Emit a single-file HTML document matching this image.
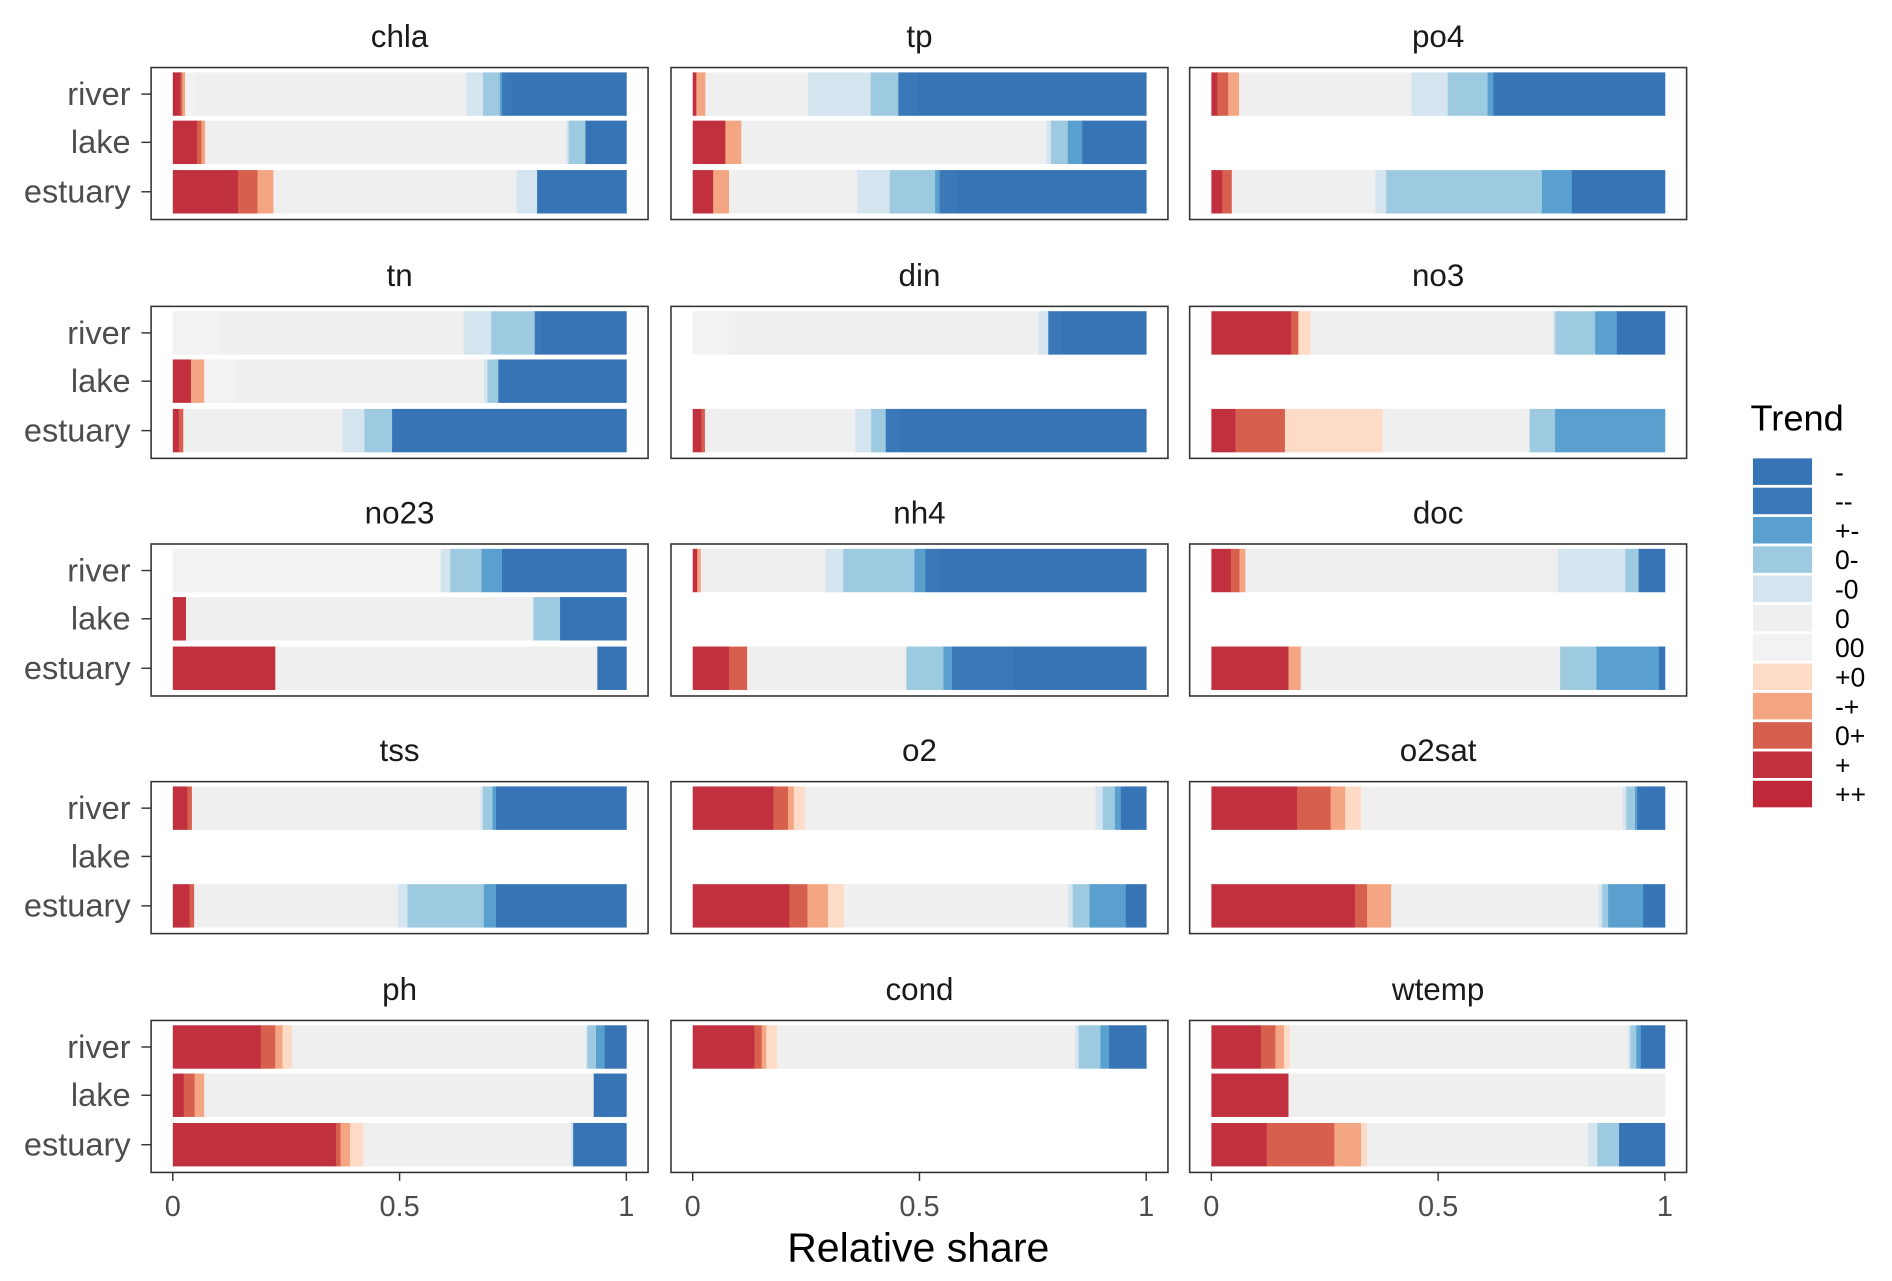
<!DOCTYPE html>
<html><head><meta charset="utf-8"><style>
html,body{margin:0;padding:0;background:#fff;}
svg{display:block;font-family:"Liberation Sans",Arial,sans-serif;}
</style></head><body>
<svg id="chart" width="1892" height="1281" viewBox="0 0 1568 1062" xmlns="http://www.w3.org/2000/svg"></svg>
<script>
// Trend categories in stacking order (left to right)
const trendKeys = ['++','+','0+','-+','+0','00','0','-0','0-','+-','--','-'];
const trendColors = ['#c1273a','#c0303e','#d6604d','#f4a582','#fddbc7','#f2f2f2','#efefef','#d4e5f0','#9ecae1','#5aa0cf','#3b78b8','#3674b5'];
const legendOrder = ['-','--','+-','0-','-0','0','00','+0','-+','0+','+','++'];
const rowsNames = ['river','lake','estuary'];
const panelNames = ['chla','tp','po4','tn','din','no3','no23','nh4','doc','tss','o2','o2sat','ph','cond','wtemp'];
const xTicks = [0,0.5,1];
const xTickLabels = ['0','0.5','1'];
// shares per panel: [river, lake, estuary]; each [++,+,0+,-+,+0,00,0,-0,0-,+-,--,-]; null = no data
const chla  = [[0.005,0.012,0.004,0.006,0,0.02,0.6,0.037,0.037,0.005,0.02,0.254],[0,0.053,0.01,0.008,0,0,0.795,0.005,0.037,0,0,0.09],[0,0.144,0.043,0.035,0,0,0.537,0.045,0,0,0,0.197]];
const tp    = [[0,0.008,0,0.02,0,0,0.226,0.138,0.061,0,0.043,0.503],[0,0.072,0,0.035,0,0,0.673,0.01,0.037,0.032,0,0.141],[0,0.045,0,0.035,0,0,0.282,0.072,0.1,0.01,0.04,0.415]];
const po4   = [[0,0.013,0.024,0.024,0,0,0.38,0.08,0.088,0.013,0,0.378],null,[0,0.024,0.021,0,0,0,0.316,0.024,0.343,0.066,0,0.205]];
const tn    = [[0,0,0,0,0,0.106,0.535,0.061,0.096,0,0.015,0.187],[0,0.04,0,0.029,0,0.07,0.546,0.008,0.024,0,0,0.282],[0,0.013,0.01,0,0,0,0.351,0.048,0.061,0,0,0.516]];
const din   = [[0,0,0,0,0,0.08,0.683,0.021,0,0,0.027,0.189],null,[0,0.019,0.008,0,0,0,0.332,0.035,0.032,0,0.032,0.543]];
const no3   = [[0,0.176,0.016,0,0.027,0,0.535,0.005,0.088,0.048,0,0.106],null,[0,0.053,0.109,0,0.215,0,0.324,0,0.056,0.242,0,0]];
const no23  = [[0,0,0,0,0,0.59,0,0.021,0.069,0.045,0,0.274],[0,0.029,0,0,0,0,0.763,0.003,0.058,0,0,0.146],[0,0.226,0,0,0,0,0.71,0,0,0,0,0.064]];
const nh4   = [[0,0.01,0,0.008,0,0,0.274,0.04,0.157,0.024,0.032,0.455],null,[0,0.08,0.04,0,0,0,0.351,0,0.082,0.019,0.133,0.295]];
const doc   = [[0,0.043,0.019,0.013,0,0,0.689,0.149,0.029,0,0,0.058],null,[0,0.17,0,0.027,0,0,0.572,0,0.08,0.138,0,0.013]];
const tss   = [[0,0.032,0.01,0,0,0,0.636,0.005,0.021,0.008,0,0.287],null,[0,0.037,0.01,0,0,0,0.449,0.021,0.168,0.027,0,0.287]];
const o2    = [[0,0.178,0.032,0.013,0.024,0,0.641,0.016,0.027,0.013,0,0.056],null,[0,0.213,0.04,0.045,0.035,0,0.495,0.01,0.037,0.08,0,0.045]];
const o2sat = [[0,0.189,0.074,0.032,0.035,0,0.577,0.008,0.019,0.005,0,0.061],null,[0,0.316,0.027,0.053,0,0,0.457,0.008,0.013,0.077,0,0.048]];
const ph    = [[0,0.194,0.032,0.016,0.021,0,0.649,0.003,0.019,0.019,0,0.048],[0,0.024,0.024,0.021,0,0,0.859,0,0,0,0,0.072],[0,0.359,0.01,0.021,0.029,0,0.457,0.005,0,0,0,0.117]];
const cond  = [[0,0.136,0.016,0.01,0.024,0,0.657,0.008,0.048,0.019,0,0.082],null,null];
const wtemp = [[0,0.109,0.032,0.019,0.013,0,0.745,0.005,0.013,0.01,0,0.053],[0,0.17,0,0,0,0,0.83,0,0,0,0,0],[0,0.122,0.149,0.059,0.013,0,0.487,0.021,0.048,0,0,0.101]];
const panelData = [chla,tp,po4,tn,din,no3,no23,nh4,doc,tss,o2,o2sat,ph,cond,wtemp];

const svg = document.getElementById('chart');
const NS = 'http://www.w3.org/2000/svg';
function mk(tag, attrs, parent){ const e=document.createElementNS(NS,tag); for(const k in attrs) e.setAttribute(k,attrs[k]); (parent||svg).appendChild(e); return e; }

const colLeft = [125,556,986], panelW = 412;
const rowTop = [56,254,451,648,846], panelH = 126;
const rowOff = [22,62,103], barH = 36;

for (let p=0;p<panelNames.length;p++){
  const c=p%3, r=Math.floor(p/3);
  const px=colLeft[c], py=rowTop[r];
  const x0=px+18, x1=px+394;
  const xs = v => x0 + v*(x1-x0);
  const g = mk('g',{});
  
  
  const t = mk('text',{x:px+panelW/2,y:py-17,'text-anchor':'middle','font-size':26,fill:'#1a1a1a'},g);
  t.textContent = panelNames[p];
  
  
  const bars = panelData[p];
  for (let k=0;k<3;k++){
    const cy = py+rowOff[k];
    if (c===0){
      const lab = mk('text',{x:px-17,y:cy+9,'text-anchor':'end','font-size':27,fill:'#4d4d4d'},g);
      lab.textContent = rowsNames[k];
      
      
      const tk = mk('line',{x1:px-8,x2:px,y1:cy,y2:cy,stroke:'#333','stroke-width':1.2},g);
      
      
    }
    const vals = bars[k];
    if (!vals) continue;
    const total = vals.reduce((a,b)=>a+b,0);
    let cum=0;
    for (let j=0;j<vals.length;j++){
      if (vals[j]<=0) continue;
      const a=xs(cum/total), b=xs((cum+vals[j])/total);
      cum+=vals[j];
      const rc = mk('rect',{x:a,y:cy-barH/2,width:Math.max(0,b-a+0.3),height:barH,fill:trendColors[j]},g);
      
      
    }
  }
  const border = mk('rect',{x:px,y:py,width:panelW,height:panelH,fill:'none',stroke:'#333','stroke-width':1.3},g);
  
  
  if (r===4){
    for (let i=0;i<xTicks.length;i++){
      const xx=xs(xTicks[i]);
      const tl = mk('line',{x1:xx,x2:xx,y1:py+panelH,y2:py+panelH+7,stroke:'#333','stroke-width':1.2},g);
      
      
      const tx = mk('text',{x:xx,y:py+panelH+36,'text-anchor':'middle','font-size':24,fill:'#4d4d4d'},g);
      tx.textContent = xTickLabels[i];
      
      
    }
  }
}
const xt = mk('text',{x:761,y:1046,'text-anchor':'middle','font-size':34,fill:'#000'});
xt.textContent='Relative share';



const lg = mk('g',{});


const lt = mk('text',{x:1451,y:357,'font-size':30,fill:'#000'},lg);
lt.textContent='Trend';


for (let i=0;i<legendOrder.length;i++){
  const y = 380 + i*24.3;
  const key = legendOrder[i];
  const col = trendColors[trendKeys.indexOf(key)];
  const kr = mk('rect',{x:1453,y:y,width:49,height:22,fill:col},lg);
  
  
  const kt = mk('text',{x:1521,y:y+19,'font-size':22,fill:'#000'},lg);
  kt.textContent = key;
  
  
}
</script>
</body></html>
